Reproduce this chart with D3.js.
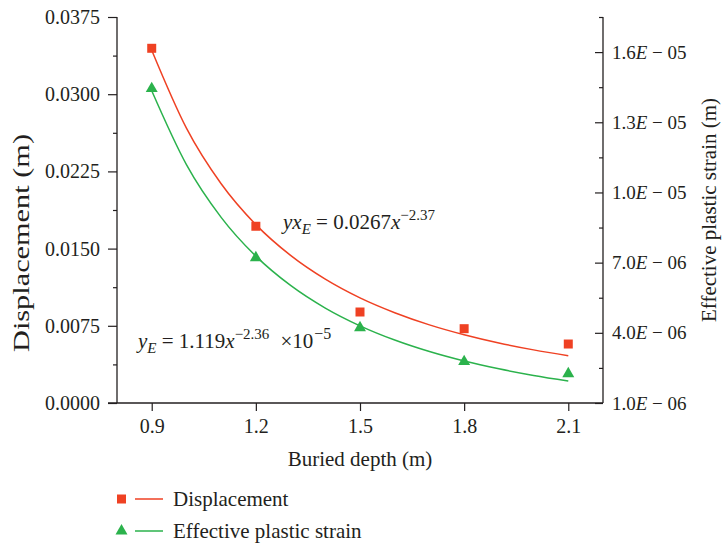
<!DOCTYPE html>
<html><head><meta charset="utf-8">
<script src="https://cdn.jsdelivr.net/npm/d3@7"></script>
<style>
body{margin:0;background:#fff}
svg{display:block}
text{font-family:"Liberation Serif","Times New Roman",serif;fill:#231f20}
</style>
</head><body>
<svg id="c" width="722" height="543"></svg>
<script>
const depths=[0.9,1.2,1.5,1.8,2.1];
const displacement=[0.03446,0.01717,0.00884,0.00722,0.00573];
const plasticStrain=[1.444e-5,7.21e-6,4.22e-6,2.77e-6,2.25e-6];
const fitDepths=[0.9,1.0,1.1,1.2,1.3,1.4,1.5,1.6,1.7,1.8,1.9,2.0,2.1];
const displacementFit=[0.03427,0.0267,0.02130,0.01733,0.01434,0.01203,0.01021,0.00877,0.00759,0.00663,0.00583,0.00516,0.00460];
const strainFit=[1.4349e-5,1.119e-5,0.8936e-5,0.7277e-5,0.6025e-5,0.5058e-5,0.4298e-5,0.3690e-5,0.3198e-5,0.2794e-5,0.2461e-5,0.2180e-5,0.1943e-5];
const xTicks=[0.9,1.2,1.5,1.8,2.1];
const xTickLabels=["0.9","1.2","1.5","1.8","2.1"];
const leftTicks=[0,0.0075,0.015,0.0225,0.03,0.0375];
const leftTickLabels=["0.0000","0.0075","0.0150","0.0225","0.0300","0.0375"];
const leftMinor=[0.00375,0.01125,0.01875,0.02625,0.03375];
const rightTicks=[1e-6,4e-6,7e-6,1e-5,1.3e-5,1.6e-5];
const rightTickLabels=["1.0E − 06","4.0E − 06","7.0E − 06","1.0E − 05","1.3E − 05","1.6E − 05"];
const rightMinor=[2.5e-6,5.5e-6,8.5e-6,1.15e-5,1.45e-5,1.75e-5];
const seriesNames=["Displacement","Effective plastic strain"];
const axisTitles={x:"Buried depth (m)",left:"Displacement (m)",right:"Effective plastic strain (m)"};

const RED="#ef4123", GREEN="#2bb24c", INK="#231f20";
const L=117,R=603,T=17,B=403;
const svg=d3.select("#c");
const x=d3.scaleLinear().domain([0.8,2.2]).range([L,R]);
const yL=d3.scaleLinear().domain([0,0.0375]).range([B,T]);
const yR=d3.scaleLinear().domain([1e-6,1.75e-5]).range([B,T]);

// axes
const gx=svg.append("g").attr("transform",`translate(0,${B})`)
  .call(d3.axisBottom(x).tickValues(xTicks).tickFormat((d,i)=>xTickLabels[i]).tickSize(8).tickPadding(8));
const gl=svg.append("g").attr("transform",`translate(${L},0)`)
  .call(d3.axisLeft(yL).tickValues(leftTicks).tickFormat((d,i)=>leftTickLabels[i]).tickSize(9).tickPadding(8));
const glm=svg.append("g").attr("transform",`translate(${L},0)`)
  .call(d3.axisLeft(yL).tickValues(leftMinor).tickFormat("").tickSize(4));
const gr=svg.append("g").attr("transform",`translate(${R},0)`)
  .call(d3.axisRight(yR).tickValues(rightTicks).tickFormat((d,i)=>rightTickLabels[i]).tickSize(-8).tickPadding(9));
const grm=svg.append("g").attr("transform",`translate(${R},0)`)
  .call(d3.axisRight(yR).tickValues(rightMinor).tickFormat("").tickSize(-4));
[gx,gl,glm,gr,grm].forEach(g=>{g.select(".domain").remove();g.selectAll("line").attr("stroke",INK).attr("stroke-width",1.2);
  g.selectAll("text").attr("font-size",20).attr("font-family",'"Liberation Serif",serif').attr("fill",INK);});
gr.selectAll("text").attr("font-size",19);
gr.selectAll(".tick text").each(function(d,i){
  const t=d3.select(this); const s=rightTickLabels[i]; const k=s.indexOf("E");
  t.text(null);
  t.append("tspan").text(s.slice(0,k));
  t.append("tspan").attr("font-style","italic").text("E");
  t.append("tspan").text(s.slice(k+1));
});
// axis lines
svg.append("line").attr("x1",L-9).attr("x2",R).attr("y1",B).attr("y2",B).attr("stroke",INK).attr("stroke-width",1.3);
svg.append("line").attr("x1",L).attr("x2",L).attr("y1",T).attr("y2",B).attr("stroke",INK).attr("stroke-width",1.3);
svg.append("line").attr("x1",R).attr("x2",R).attr("y1",T).attr("y2",B).attr("stroke",INK).attr("stroke-width",1.3);

// titles
svg.append("text").attr("x",(L+R)/2).attr("y",466).attr("text-anchor","middle").attr("font-size",21).text(axisTitles.x);
svg.append("text").attr("transform","translate(29,243) rotate(-90)").attr("text-anchor","middle").attr("font-size",24)
  .attr("textLength",218).attr("lengthAdjust","spacingAndGlyphs").text(axisTitles.left);
svg.append("text").attr("transform","translate(716,210) rotate(-90)").attr("text-anchor","middle").attr("font-size",21).text(axisTitles.right);

// fit curves
const lineL=d3.line().x((d,i)=>x(fitDepths[i])).y(d=>yL(d)).curve(d3.curveMonotoneX);
const lineR=d3.line().x((d,i)=>x(fitDepths[i])).y(d=>yR(d)).curve(d3.curveMonotoneX);
svg.append("path").attr("d",lineL(displacementFit)).attr("fill","none").attr("stroke",RED).attr("stroke-width",1.5);
svg.append("path").attr("d",lineR(strainFit)).attr("fill","none").attr("stroke",GREEN).attr("stroke-width",1.5);

// markers
const sq=d3.symbol().type(d3.symbolSquare).size(81);
const tri=d3.symbol().type(d3.symbolTriangle).size(62);
svg.append("g").selectAll("path").data(displacement).join("path")
  .attr("transform",(d,i)=>`translate(${x(depths[i])},${yL(d)})`).attr("d",sq).attr("fill",RED);
svg.append("g").selectAll("path").data(plasticStrain).join("path")
  .attr("transform",(d,i)=>`translate(${x(depths[i])},${yR(d)})`).attr("d",tri).attr("fill",GREEN);

// equations
function eq(xp,yp,parts){
  const t=svg.append("text").attr("x",xp).attr("y",yp).attr("font-size",21);
  parts.forEach(p=>{
    const s=t.append("tspan").text(p.t);
    if(p.i) s.attr("font-style","italic");
    if(p.dy) s.attr("dy",p.dy);
    if(p.dx) s.attr("dx",p.dx);
    if(p.fs) s.attr("font-size",p.fs);
  });
}
eq(283,229,[{t:"yx",i:1},{t:"E",i:1,fs:15,dy:5},{t:" = 0.0267",dy:-5},{t:"x",i:1},{t:"−2.37",fs:15,dy:-9}]);
eq(138,348,[{t:"y",i:1},{t:"E",i:1,fs:15,dy:5},{t:" = 1.119",dy:-5},{t:"x",i:1},{t:"−2.36",fs:15,dy:-9},{t:"×10",dy:9,dx:11,fs:21},{t:"−5",fs:16,dy:-9,dx:1}]);

// legend
const leg=[{c:RED,s:sq,y:499},{c:GREEN,s:tri,y:531}];
leg.forEach((l,i)=>{
  svg.append("path").attr("transform",`translate(121.5,${l.y})`).attr("d",l.s).attr("fill",l.c);
  svg.append("line").attr("x1",135).attr("x2",163).attr("y1",l.y).attr("y2",l.y).attr("stroke",l.c).attr("stroke-width",1.5);
  svg.append("text").attr("x",173).attr("y",l.y+7).attr("font-size",21).text(seriesNames[i]);
});
</script>
</body></html>
